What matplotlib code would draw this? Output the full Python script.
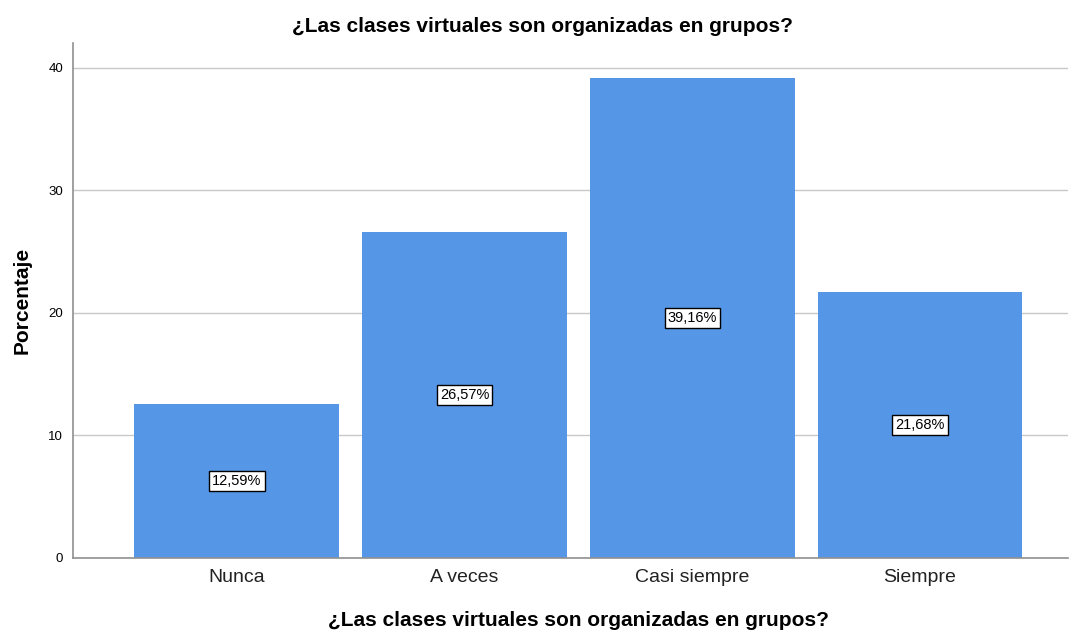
import matplotlib.pyplot as plt

plt.rcParams['font.family'] = ['Liberation Sans', 'DejaVu Sans']

categories = ['Nunca', 'A veces', 'Casi siempre', 'Siempre']
percentages = [12.59, 26.57, 39.16, 21.68]
value_labels = ['12,59%', '26,57%', '39,16%', '21,68%']
y_ticks = [0, 10, 20, 30, 40]
title = '¿Las clases virtuales son organizadas en grupos?'

fig = plt.figure(figsize=(10.7, 6.31), dpi=100)
ax = fig.add_axes([73 / 1070, 1 - 558 / 631, (1068 - 73) / 1070, (558 - 43) / 631])

x = range(len(categories))
ax.bar(x, percentages, width=0.9, color='#5596E6', zorder=2)

for i, (v, lab) in enumerate(zip(percentages, value_labels)):
    ax.text(i, v / 2, lab, ha='center', va='center', fontsize=10.5, zorder=3,
            bbox=dict(boxstyle='square,pad=0.2', facecolor='white', edgecolor='black', linewidth=1))

ax.set_xlim(-0.72, 3.65)
ax.set_ylim(0, 42)
ax.set_yticks(y_ticks)
ax.set_xticks(list(x))
ax.set_xticklabels(categories, fontsize=14, color='#222222')
ax.tick_params(axis='y', labelsize=9.5, length=0, pad=7)
ax.tick_params(axis='x', length=0, pad=8)
ax.grid(axis='y', color='#c8c8c8', linewidth=1, zorder=0)

for s in ['top', 'right']:
    ax.spines[s].set_visible(False)
for s in ['left', 'bottom']:
    ax.spines[s].set_color('#909090')
    ax.spines[s].set_linewidth(1.2)

fig.text(542 / 1070, 1 - 27 / 631, title, fontsize=15, fontweight='bold',
         ha='center', va='center')
fig.text(579 / 1070, 1 - 620 / 631, title, fontsize=15, fontweight='bold',
         ha='center', va='center')
ax.set_ylabel('Porcentaje', fontsize=15, fontweight='bold', labelpad=12)

plt.savefig('out.png', dpi=100)
